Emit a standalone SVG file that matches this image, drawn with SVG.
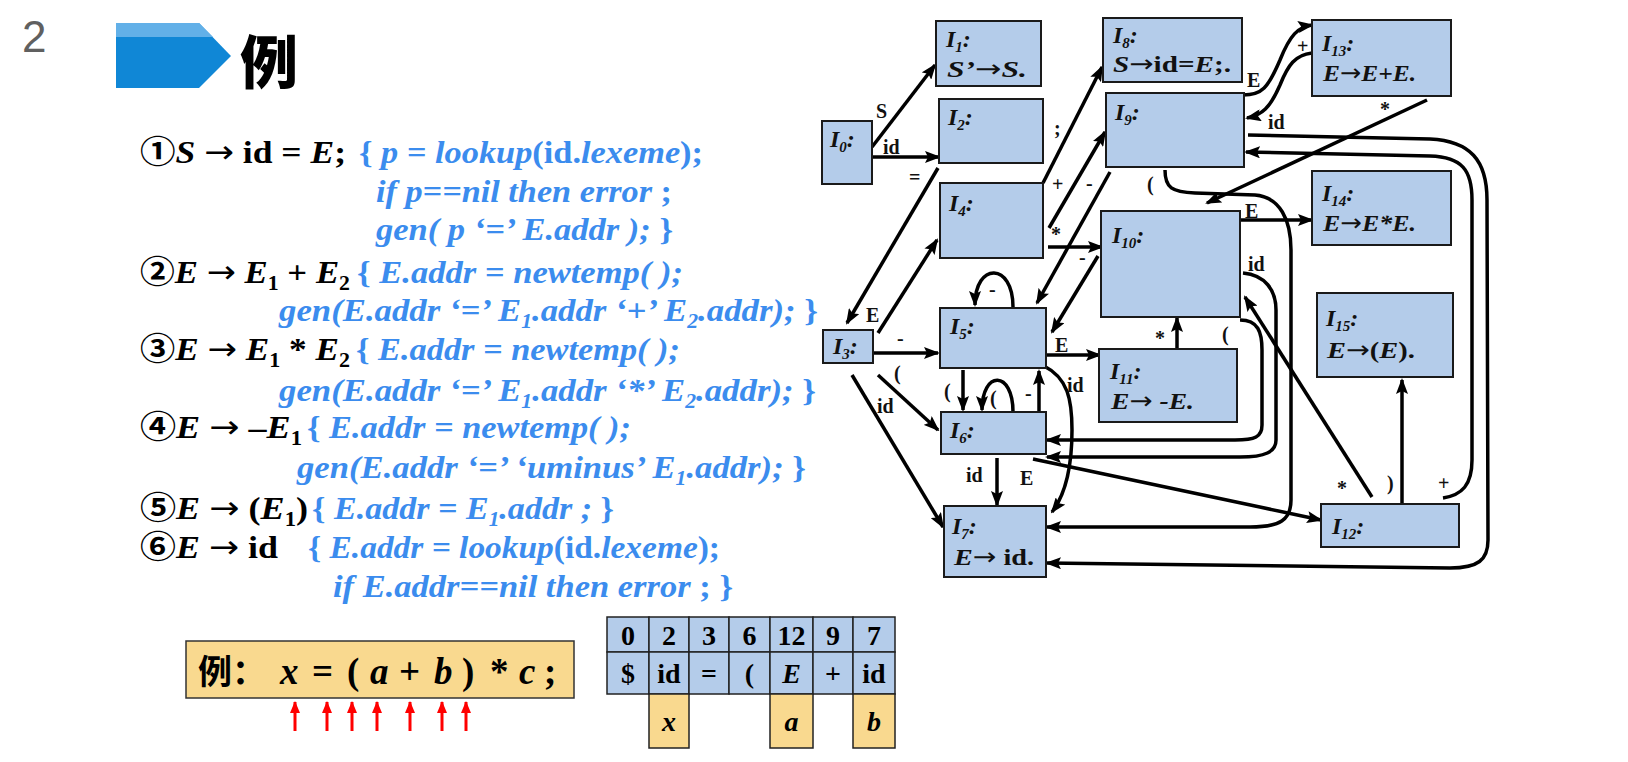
<svg xmlns="http://www.w3.org/2000/svg" width="1628" height="762" viewBox="0 0 1628 762">
<style>
.rule{font-family:"Liberation Serif","Noto Sans CJK SC",serif;font-weight:bold;font-size:32px;fill:#000}
.blue{fill:#3b8cee;font-style:italic}
.it{font-style:italic}
.up{font-style:normal}
.ar{font-family:"DejaVu Sans",sans-serif;font-weight:normal;font-style:normal}
.sub{font-size:20px}
.node rect{fill:#b4ccea;stroke:#1a1a1a;stroke-width:2}
.nt{font-family:"Liberation Serif",serif;font-weight:bold;font-style:italic;font-size:24px;fill:#111}
.ns{font-size:15px}
.lbl{font-family:"Liberation Serif",serif;font-weight:bold;font-size:20px;fill:#111}
.conn path{fill:none;stroke:#000;stroke-width:3.5;marker-end:url(#ah)}
.cell{stroke:#222;stroke-width:1.5}
.tb{font-family:"Liberation Serif",serif;font-weight:bold;font-size:28px;fill:#000;text-anchor:middle}
</style>
<defs>
<marker id="ah" markerWidth="16" markerHeight="12" refX="14" refY="6" orient="auto" markerUnits="userSpaceOnUse"><path d="M0,0 L16,6 L0,12 L3,6 z" fill="#000"/></marker>
<marker id="rh" markerWidth="12" markerHeight="10" refX="11" refY="5" orient="auto" markerUnits="userSpaceOnUse"><path d="M0,0 L12,5 L0,10 z" fill="#f00"/></marker>
</defs>
<rect width="1628" height="762" fill="#fff"/>

<!-- header -->
<text x="22" y="52" font-family="Liberation Sans,sans-serif" font-size="44" fill="#606060">2</text>
<polygon points="116,23 199,23 231,56 199,88 116,88" fill="#1087d6"/>
<polygon points="116,23 199,23 213,37 116,37" fill="#62b0e8"/>
<text x="240" y="84" font-family="Noto Sans CJK SC,sans-serif" font-weight="900" font-size="58" fill="#000">例</text>

<!-- rules -->
<g id="rules">
<text class="rule" x="140" y="163" textLength="206" lengthAdjust="spacingAndGlyphs">①<tspan class="it">S</tspan> <tspan class="ar">→</tspan> id = <tspan class="it">E</tspan>;</text>
<text class="rule blue" x="359" y="163" textLength="344" lengthAdjust="spacingAndGlyphs"><tspan class="up">{ </tspan>p = lookup<tspan class="up">(id.</tspan>lexeme<tspan class="up">);</tspan></text>
<text class="rule blue" x="376" y="202" textLength="296" lengthAdjust="spacingAndGlyphs">if p==nil then error <tspan class="up">;</tspan></text>
<text class="rule blue" x="376" y="240" textLength="297" lengthAdjust="spacingAndGlyphs">gen( p ‘=’ E.addr ); <tspan class="up">}</tspan></text>

<text class="rule" x="140" y="283" textLength="210" lengthAdjust="spacingAndGlyphs">②<tspan class="it">E</tspan> <tspan class="ar">→</tspan> <tspan class="it">E</tspan><tspan class="sub" dy="7">1</tspan><tspan dy="-7"> + </tspan><tspan class="it">E</tspan><tspan class="sub" dy="7">2</tspan></text>
<text class="rule blue" x="357" y="283" textLength="326" lengthAdjust="spacingAndGlyphs"><tspan class="up">{ </tspan>E.addr = newtemp( );</text>
<text class="rule blue" x="279" y="321" textLength="539" lengthAdjust="spacingAndGlyphs">gen(E.addr ‘=’ E<tspan class="sub" dy="7">1</tspan><tspan dy="-7">.addr ‘+’ E</tspan><tspan class="sub" dy="7">2</tspan><tspan dy="-7">.addr); </tspan><tspan class="up">}</tspan></text>

<text class="rule" x="140" y="360" textLength="210" lengthAdjust="spacingAndGlyphs">③<tspan class="it">E</tspan> <tspan class="ar">→</tspan> <tspan class="it">E</tspan><tspan class="sub" dy="7">1</tspan><tspan dy="-7"> * </tspan><tspan class="it">E</tspan><tspan class="sub" dy="7">2</tspan></text>
<text class="rule blue" x="356" y="360" textLength="324" lengthAdjust="spacingAndGlyphs"><tspan class="up">{ </tspan>E.addr = newtemp( );</text>
<text class="rule blue" x="279" y="401" textLength="537" lengthAdjust="spacingAndGlyphs">gen(E.addr ‘=’ E<tspan class="sub" dy="7">1</tspan><tspan dy="-7">.addr ‘*’ E</tspan><tspan class="sub" dy="7">2</tspan><tspan dy="-7">.addr); </tspan><tspan class="up">}</tspan></text>

<text class="rule" x="140" y="438" textLength="162" lengthAdjust="spacingAndGlyphs">④<tspan class="it">E</tspan> <tspan class="ar">→</tspan> –<tspan class="it">E</tspan><tspan class="sub" dy="7">1</tspan></text>
<text class="rule blue" x="307" y="438" textLength="324" lengthAdjust="spacingAndGlyphs"><tspan class="up">{ </tspan>E.addr = newtemp( );</text>
<text class="rule blue" x="297" y="478" textLength="509" lengthAdjust="spacingAndGlyphs">gen(E.addr ‘=’ ‘uminus’ E<tspan class="sub" dy="7">1</tspan><tspan dy="-7">.addr); </tspan><tspan class="up">}</tspan></text>

<text class="rule" x="140" y="519" textLength="168" lengthAdjust="spacingAndGlyphs">⑤<tspan class="it">E</tspan> <tspan class="ar">→</tspan> (<tspan class="it">E</tspan><tspan class="sub" dy="7">1</tspan><tspan dy="-7">)</tspan></text>
<text class="rule blue" x="312" y="519" textLength="302" lengthAdjust="spacingAndGlyphs"><tspan class="up">{ </tspan>E.addr = E<tspan class="sub" dy="7">1</tspan><tspan dy="-7">.addr ; </tspan><tspan class="up">}</tspan></text>

<text class="rule" x="140" y="558" textLength="138" lengthAdjust="spacingAndGlyphs">⑥<tspan class="it">E</tspan> <tspan class="ar">→</tspan> id</text>
<text class="rule blue" x="308" y="558" textLength="412" lengthAdjust="spacingAndGlyphs"><tspan class="up">{ </tspan>E.addr = lookup<tspan class="up">(id.</tspan>lexeme<tspan class="up">);</tspan></text>
<text class="rule blue" x="333" y="597" textLength="400" lengthAdjust="spacingAndGlyphs">if E.addr==nil then error <tspan class="up">; }</tspan></text>
</g>

<!-- example input -->
<g id="input">
<rect x="186" y="641" width="388" height="57" fill="#f9d98f" stroke="#333" stroke-width="1.5"/>
<text y="684" font-family="Liberation Serif,Noto Sans CJK SC,serif" font-weight="bold" font-size="37" fill="#000"><tspan x="198" font-family="Noto Sans CJK SC,sans-serif" font-size="34">例：</tspan><tspan x="280" font-style="italic">x</tspan><tspan x="312">=</tspan><tspan x="347">(</tspan><tspan x="370" font-style="italic">a</tspan><tspan x="399">+</tspan><tspan x="434" font-style="italic">b</tspan><tspan x="462">)</tspan><tspan x="490">*</tspan><tspan x="519" font-style="italic">c</tspan><tspan x="544">;</tspan></text>
<g stroke="#f00" stroke-width="3" marker-end="url(#rh)">
<line x1="295" y1="731" x2="295" y2="702"/>
<line x1="327" y1="731" x2="327" y2="702"/>
<line x1="352" y1="731" x2="352" y2="702"/>
<line x1="377" y1="731" x2="377" y2="702"/>
<line x1="410" y1="731" x2="410" y2="702"/>
<line x1="442" y1="731" x2="442" y2="702"/>
<line x1="466" y1="731" x2="466" y2="702"/>
</g>
</g>

<!-- stack table -->
<g id="stack">
<g class="cell" fill="#b4ccea">
<rect x="607" y="617" width="42" height="35"/><rect x="649" y="617" width="40" height="35"/><rect x="689" y="617" width="40" height="35"/><rect x="729" y="617" width="41" height="35"/><rect x="770" y="617" width="43" height="35"/><rect x="813" y="617" width="40" height="35"/><rect x="853" y="617" width="42" height="35"/>
<rect x="607" y="652" width="42" height="42"/><rect x="649" y="652" width="40" height="42"/><rect x="689" y="652" width="40" height="42"/><rect x="729" y="652" width="41" height="42"/><rect x="770" y="652" width="43" height="42"/><rect x="813" y="652" width="40" height="42"/><rect x="853" y="652" width="42" height="42"/>
</g>
<g class="cell" fill="#f9d98f">
<rect x="649" y="694" width="40" height="54"/><rect x="770" y="694" width="43" height="54"/><rect x="853" y="694" width="42" height="54"/>
</g>
<text class="tb" y="645"><tspan x="628">0</tspan><tspan x="669">2</tspan><tspan x="709">3</tspan><tspan x="749.5">6</tspan><tspan x="791.5">12</tspan><tspan x="833">9</tspan><tspan x="874">7</tspan></text>
<text class="tb" y="683"><tspan x="628">$</tspan><tspan x="669">id</tspan><tspan x="709">=</tspan><tspan x="749.5">(</tspan><tspan x="791.5" font-style="italic">E</tspan><tspan x="833">+</tspan><tspan x="874">id</tspan></text>
<text class="tb" y="731" font-style="italic"><tspan x="669">x</tspan><tspan x="791.5">a</tspan><tspan x="874">b</tspan></text>
</g>

<!-- connectors -->
<g id="connectors" class="conn">
<path d="M872,147 L935,65"/>
<path d="M872,157 L939,157"/>
<path d="M938,168 L847,323"/>
<path d="M878,333 L937,240"/>
<path d="M873,353 L938,353"/>
<path d="M878,375 L938,430"/>
<path d="M852,375 L943,527"/>
<path d="M1043,183 L1102,67"/>
<path d="M1049,228 L1105,132"/>
<path d="M1110,172 L1037,303"/>
<path d="M1048,247 L1102,247"/>
<path d="M1098,256 L1052,332"/>
<path d="M1013,307 C1013,262 975,262 975,305"/>
<path d="M1047,355 L1100,355"/>
<path d="M963,370 L963,410"/>
<path d="M1039,412 L1039,371"/>
<path d="M1013,412 C1013,370 982,370 982,410"/>
<path d="M997,458 L997,505"/>
<path d="M1033,459 L1321,520"/>
<path d="M1044,366 C1068,378 1072,400 1072,430 C1072,470 1065,495 1052,512"/>
<path d="M1243,95 C1262,95 1268,88 1280,60 C1290,35 1298,27 1312,25"/>
<path d="M1312,53 C1295,55 1288,65 1280,85 C1270,108 1262,115 1247,118"/>
<path d="M1427,100 L1207,203"/>
<path d="M1240,220 L1312,220"/>
<path d="M1177,349 L1177,318"/>
<path d="M1402,504 L1402,380"/>
<path d="M1372,497 L1245,297"/>
<path d="M1443,498 C1462,495 1472,485 1472,460 L1472,200 C1472,170 1462,157 1430,156 L1246,152"/>
<path d="M1248,135 L1430,139 C1470,141 1487,160 1487,200 L1488,540 C1488,560 1478,568 1450,568 L1047,563"/>
<path d="M1240,320 C1258,320 1262,332 1262,350 L1262,425 C1262,437 1255,440 1235,440 L1047,440"/>
<path d="M1243,273 C1265,275 1276,290 1276,310 L1276,440 C1276,452 1265,457 1240,457 L1047,457"/>
<path d="M1165,170 C1165,188 1172,192 1195,193 L1255,195 C1280,197 1291,220 1291,250 L1291,500 C1291,520 1280,527 1250,527 L1047,527"/>
</g>

<!-- connector labels -->
<g id="labels" class="lbl">
<text x="876" y="118">S</text>
<text x="883" y="154">id</text>
<text x="909" y="184">=</text>
<text x="1054" y="135">;</text>
<text x="1052" y="191">+</text>
<text x="1086" y="190">-</text>
<text x="1051" y="241">*</text>
<text x="1079" y="264">-</text>
<text x="866" y="322">E</text>
<text x="897" y="345">-</text>
<text x="989" y="296">-</text>
<text x="1055" y="352">E</text>
<text x="894" y="380">(</text>
<text x="877" y="413">id</text>
<text x="944" y="398">(</text>
<text x="990" y="405">(</text>
<text x="1025" y="400">-</text>
<text x="1067" y="392">id</text>
<text x="966" y="482">id</text>
<text x="1020" y="485">E</text>
<text x="1155" y="345">*</text>
<text x="1222" y="341">(</text>
<text x="1248" y="271">id</text>
<text x="1147" y="191">(</text>
<text x="1247" y="87">E</text>
<text x="1297" y="53">+</text>
<text x="1268" y="129">id</text>
<text x="1380" y="116">*</text>
<text x="1245" y="218">E</text>
<text x="1337" y="495">*</text>
<text x="1387" y="490">)</text>
<text x="1438" y="490">+</text>
</g>

<!-- nodes -->
<g id="I0" class="node"><rect x="822" y="121" width="50" height="63"/><text class="nt" x="830" y="147">I<tspan class="ns" dy="5">0</tspan><tspan dy="-5">:</tspan></text></g>
<g id="I1" class="node"><rect x="936" y="21" width="105" height="65"/><text class="nt" x="946" y="47">I<tspan class="ns" dy="5">1</tspan><tspan dy="-5">:</tspan></text><text class="nt" x="947" y="77" textLength="80" lengthAdjust="spacingAndGlyphs">S’<tspan class="ar">→</tspan>S.</text></g>
<g id="I2" class="node"><rect x="939" y="99" width="104" height="64"/><text class="nt" x="948" y="125">I<tspan class="ns" dy="5">2</tspan><tspan dy="-5">:</tspan></text></g>
<g id="I4" class="node"><rect x="940" y="183" width="103" height="75"/><text class="nt" x="949" y="211">I<tspan class="ns" dy="5">4</tspan><tspan dy="-5">:</tspan></text></g>
<g id="I3" class="node"><rect x="823" y="330" width="50" height="33"/><text class="nt" font-style="normal" x="833" y="354">I<tspan class="ns" dy="5">3</tspan><tspan dy="-5">:</tspan></text></g>
<g id="I5" class="node"><rect x="940" y="308" width="106" height="60"/><text class="nt" x="950" y="334">I<tspan class="ns" dy="5">5</tspan><tspan dy="-5">:</tspan></text></g>
<g id="I6" class="node"><rect x="941" y="412" width="105" height="42"/><text class="nt" x="950" y="438">I<tspan class="ns" dy="5">6</tspan><tspan dy="-5">:</tspan></text></g>
<g id="I7" class="node"><rect x="944" y="506" width="102" height="71"/><text class="nt" x="952" y="534">I<tspan class="ns" dy="5">7</tspan><tspan dy="-5">:</tspan></text><text class="nt" x="954" y="565" textLength="80" lengthAdjust="spacingAndGlyphs">E<tspan class="ar">→</tspan><tspan font-style="normal"> id.</tspan></text></g>
<g id="I8" class="node"><rect x="1103" y="18" width="139" height="64"/><text class="nt" x="1113" y="43">I<tspan class="ns" dy="5">8</tspan><tspan dy="-5">:</tspan></text><text class="nt" x="1113" y="72" textLength="118" lengthAdjust="spacingAndGlyphs">S<tspan class="ar">→</tspan><tspan font-style="normal">id=</tspan>E<tspan font-style="normal">;.</tspan></text></g>
<g id="I9" class="node"><rect x="1106" y="93" width="138" height="74"/><text class="nt" x="1115" y="120">I<tspan class="ns" dy="5">9</tspan><tspan dy="-5">:</tspan></text></g>
<g id="I10" class="node"><rect x="1101" y="211" width="139" height="106"/><text class="nt" x="1112" y="243">I<tspan class="ns" dy="5">10</tspan><tspan dy="-5">:</tspan></text></g>
<g id="I11" class="node"><rect x="1099" y="349" width="138" height="73"/><text class="nt" x="1110" y="379">I<tspan class="ns" dy="5">11</tspan><tspan dy="-5">:</tspan></text><text class="nt" x="1111" y="409" textLength="83" lengthAdjust="spacingAndGlyphs">E<tspan class="ar">→</tspan> -E.</text></g>
<g id="I13" class="node"><rect x="1312" y="20" width="139" height="76"/><text class="nt" x="1322" y="51">I<tspan class="ns" dy="5">13</tspan><tspan dy="-5">:</tspan></text><text class="nt" x="1323" y="81" textLength="93" lengthAdjust="spacingAndGlyphs">E<tspan class="ar">→</tspan>E+E.</text></g>
<g id="I14" class="node"><rect x="1312" y="171" width="139" height="74"/><text class="nt" x="1322" y="201">I<tspan class="ns" dy="5">14</tspan><tspan dy="-5">:</tspan></text><text class="nt" x="1323" y="231" textLength="93" lengthAdjust="spacingAndGlyphs">E<tspan class="ar">→</tspan>E*E.</text></g>
<g id="I15" class="node"><rect x="1317" y="293" width="136" height="84"/><text class="nt" x="1326" y="326">I<tspan class="ns" dy="5">15</tspan><tspan dy="-5">:</tspan></text><text class="nt" x="1327" y="358" textLength="88" lengthAdjust="spacingAndGlyphs">E<tspan class="ar">→</tspan><tspan font-style="normal">(</tspan>E<tspan font-style="normal">).</tspan></text></g>
<g id="I12" class="node"><rect x="1321" y="504" width="138" height="43"/><text class="nt" x="1332" y="534">I<tspan class="ns" dy="5">12</tspan><tspan dy="-5">:</tspan></text></g>
</svg>
